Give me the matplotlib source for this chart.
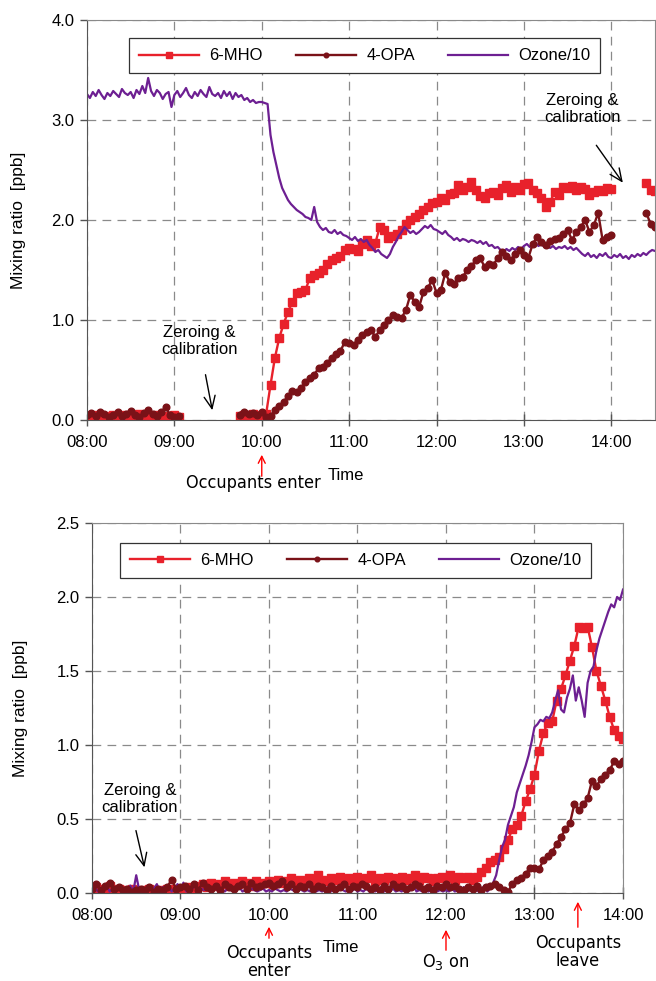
import numpy as np
import matplotlib
matplotlib.use('Agg')
import matplotlib.pyplot as plt
from matplotlib import font_manager

plt.rcParams['font.family'] = ['Liberation Sans', 'DejaVu Sans']

nan = np.nan

# ---------- top panel (3-min samples for 6-MHO / 4-OPA, 2-min for ozone) ----------
top_mho = [0.04, 0.03, 0.05, 0.02, 0.04, 0.03, 0.05, 0.04, 0.02, 0.05,
           0.03, 0.04, 0.06, 0.03, 0.04, 0.02, 0.05, 0.03, 0.04, 0.03,
           0.05, 0.03,
           nan, nan, nan, nan, nan, nan, nan, nan, nan, nan, nan, nan, nan,
           0.04, 0.05, 0.03, 0.06, 0.04, 0.05, 0.06,
           0.35, 0.62, 0.82, 0.96, 1.08, 1.18, 1.27, 1.28, 1.30, 1.42,
           1.45, 1.47, 1.50, 1.56, 1.60, 1.62, 1.64, 1.70, 1.72, 1.71,
           1.69, 1.76, 1.80, 1.74, 1.77, 1.93, 1.90, 1.82, 1.84, 1.86,
           1.90, 1.96, 2.00, 2.03, 2.06, 2.10, 2.13, 2.17, 2.18, 2.22,
           2.20, 2.26, 2.27, 2.35, 2.30, 2.33, 2.38, 2.30, 2.24, 2.22,
           2.27, 2.28, 2.25, 2.32, 2.35, 2.28, 2.33, 2.30, 2.36, 2.37,
           2.30, 2.27, 2.22, 2.13, 2.18, 2.28, 2.25, 2.33, 2.32, 2.34,
           2.30, 2.33, 2.31, 2.25, 2.28, 2.30, 2.29, 2.32, 2.31,
           nan, nan, nan, nan, nan, nan, nan,
           2.37, 2.30, 2.29]

top_opa = [0.05, 0.07, 0.04, 0.08, 0.06, 0.03, 0.05, 0.08, 0.04, 0.06,
           0.09, 0.05, 0.03, 0.07, 0.10, 0.06, 0.04, 0.08, 0.13, 0.05,
           0.03, 0.04,
           nan, nan, nan, nan, nan, nan, nan, nan, nan, nan, nan, nan, nan,
           0.05, 0.08, 0.06, 0.07, 0.05, 0.08, 0.03,
           0.04, 0.10, 0.14, 0.18, 0.24, 0.29, 0.28, 0.32, 0.38, 0.42,
           0.45, 0.52, 0.53, 0.57, 0.62, 0.66, 0.69, 0.78, 0.77, 0.75,
           0.80, 0.85, 0.88, 0.90, 0.83, 0.90, 0.95, 1.00, 1.05, 1.03,
           1.02, 1.10, 1.25, 1.18, 1.13, 1.28, 1.32, 1.40, 1.27, 1.30,
           1.47, 1.38, 1.36, 1.42, 1.43, 1.50, 1.54, 1.60, 1.62, 1.53,
           1.56, 1.55, 1.62, 1.68, 1.64, 1.60, 1.66, 1.70, 1.65, 1.62,
           1.76, 1.83, 1.78, 1.75, 1.79, 1.81, 1.82, 1.86, 1.90, 1.80,
           1.88, 1.93, 2.00, 1.88, 1.95, 2.07, 1.80, 1.83, 1.85,
           nan, nan, nan, nan, nan, nan, nan,
           2.07, 1.96, 1.93]

top_ozone = [3.26, 3.22, 3.28, 3.24, 3.30, 3.25, 3.21, 3.27, 3.24, 3.29, 3.26, 3.23, 3.31, 3.27, 3.25,
             3.28, 3.22, 3.30, 3.26, 3.34, 3.27, 3.42, 3.29, 3.24, 3.30, 3.27, 3.21, 3.26, 3.28, 3.13,
             3.25, 3.29, 3.23, 3.27, 3.32, 3.25, 3.22, 3.28, 3.24, 3.30, 3.26, 3.23, 3.33, 3.26, 3.24,
             3.27, 3.22, 3.29, 3.24, 3.28, 3.21, 3.27, 3.23, 3.25, 3.20, 3.22, 3.18, 3.20, 3.17, 3.18,
             3.18, 3.17, 3.16, 2.85, 2.68, 2.55, 2.42, 2.32, 2.26, 2.20, 2.16, 2.13, 2.10, 2.08, 2.06,
             2.03, 2.02, 2.00, 2.13, 1.98, 1.93, 1.90, 1.92, 1.88, 1.87, 1.90, 1.86, 1.88, 1.85, 1.84,
             1.82, 1.80, 1.83, 1.79, 1.81, 1.78, 1.80, 1.75, 1.72, 1.68, 1.70, 1.66, 1.64, 1.62, 1.66,
             1.73, 1.78, 1.84, 1.88, 1.93, 1.90, 1.87, 1.89, 1.86, 1.88, 1.91, 1.94, 1.92, 1.95, 1.91,
             1.90, 1.88, 1.86, 1.89, 1.85, 1.83, 1.80, 1.82, 1.79, 1.81, 1.80, 1.78, 1.80, 1.79, 1.77,
             1.79, 1.76, 1.78, 1.74, 1.75, 1.72, 1.73, 1.70, 1.68, 1.71, 1.69, 1.72, 1.70, 1.73, 1.71,
             1.74, 1.76, 1.73, 1.75, 1.77, 1.74, 1.76, 1.73, 1.75, 1.72, 1.74, 1.71, 1.73, 1.72, 1.74,
             1.71, 1.73, 1.70, 1.72, 1.69, 1.66, 1.64, 1.67, 1.63, 1.65, 1.62, 1.66, 1.64, 1.67, 1.63,
             1.62, 1.65, 1.63, 1.66, 1.62, 1.64, 1.61, 1.65, 1.63, 1.66, 1.64, 1.67, 1.65, 1.68, 1.70,
             1.69]

# ---------- bottom panel ----------
bot_mho = [0.03, 0.04, 0.02, 0.03, 0.05, 0.02, 0.03, 0.01, 0.02, 0.03,
           0.02, 0.01, 0.02, 0.03, 0.02, 0.01, 0.02, 0.03, 0.02, 0.03,
           0.02, 0.03, 0.04, 0.03, 0.05, 0.06, 0.04, 0.07, 0.05, 0.06,
           0.08, 0.05, 0.07, 0.06, 0.08, 0.07, 0.05, 0.08, 0.06, 0.07,
           0.08, 0.06, 0.09, 0.07, 0.08, 0.10, 0.07, 0.09, 0.08, 0.10,
           0.07, 0.12, 0.09, 0.08, 0.10, 0.09, 0.11, 0.08, 0.10, 0.09,
           0.11, 0.09, 0.10, 0.12, 0.08, 0.10, 0.09, 0.11, 0.10, 0.08,
           0.11, 0.09, 0.10, 0.12, 0.09, 0.11, 0.10, 0.08, 0.10, 0.11,
           0.10, 0.12, 0.09, 0.11, 0.10, 0.11, 0.09, 0.11, 0.14, 0.17,
           0.21, 0.22, 0.24, 0.30, 0.36, 0.43, 0.46, 0.52, 0.62, 0.70,
           0.80, 0.96, 1.08, 1.15, 1.16, 1.30, 1.38, 1.47, 1.57, 1.67,
           1.80, 1.79, 1.80, 1.66, 1.50, 1.40, 1.30, 1.19, 1.10, 1.06,
           1.04]

bot_opa = [0.03, 0.06, 0.02, 0.05, 0.07, 0.03, 0.04, 0.02, 0.03, 0.01,
           0.02, 0.03, 0.02, 0.04, 0.01, 0.03, 0.02, 0.04, 0.09, 0.03,
           0.04, 0.05, 0.03, 0.06, 0.02, 0.07, 0.04, 0.03, 0.05, 0.02,
           0.06, 0.04, 0.03, 0.05, 0.06, 0.03, 0.07, 0.04, 0.05, 0.06,
           0.07, 0.05, 0.06, 0.08, 0.04, 0.06, 0.03, 0.05, 0.04, 0.06,
           0.03, 0.05, 0.04, 0.02, 0.05, 0.03, 0.04, 0.06, 0.03, 0.05,
           0.04, 0.06, 0.05, 0.03, 0.04, 0.02, 0.05, 0.03, 0.06, 0.04,
           0.05, 0.03, 0.04, 0.06, 0.05, 0.03, 0.04, 0.02, 0.05, 0.04,
           0.06, 0.04, 0.05, 0.03, 0.02, 0.04, 0.03, 0.05, 0.02, 0.04,
           0.05, 0.06, 0.04, 0.02, 0.01, 0.06, 0.09, 0.10, 0.13, 0.17,
           0.17, 0.16, 0.22, 0.25, 0.28, 0.33, 0.38, 0.43, 0.47, 0.60,
           0.56, 0.60, 0.64, 0.76, 0.72, 0.77, 0.80, 0.83, 0.89, 0.87,
           0.89]

bot_ozone = [0.02, 0.04, 0.01, 0.03, 0.02, 0.05, 0.01, 0.03, 0.02, 0.04, 0.01, 0.03, 0.02, 0.05, 0.01,
             0.12, 0.02, 0.04, 0.01, 0.05, 0.02, 0.03, 0.06, 0.01, 0.04, 0.02, 0.05, 0.01, 0.03, 0.06,
             0.02, 0.07, 0.01, 0.04, 0.03, 0.05, 0.01, 0.03, 0.02, 0.04, 0.01, 0.02, 0.03, 0.01, 0.02,
             0.01, 0.03, 0.02, 0.01, 0.02, 0.04, 0.01, 0.02, 0.01, 0.03, 0.02, 0.01, 0.02, 0.03, 0.01,
             0.02, 0.01, 0.03, 0.02, 0.01, 0.02, 0.01, 0.03, 0.02, 0.01, 0.04, 0.02, 0.01, 0.02, 0.01,
             0.03, 0.01, 0.02, 0.01, 0.02, 0.04, 0.01, 0.02, 0.01, 0.03, 0.02, 0.01, 0.02, 0.01, 0.03,
             0.01, 0.02, 0.01, 0.03, 0.01, 0.02, 0.01, 0.02, 0.04, 0.01, 0.02, 0.01, 0.03, 0.01, 0.02,
             0.01, 0.03, 0.01, 0.02, 0.05, 0.01, 0.02, 0.01, 0.03, 0.01, 0.02, 0.04, 0.01, 0.02, 0.01,
             0.02, 0.01, 0.03, 0.01, 0.02, 0.01, 0.04, 0.01, 0.02, 0.01, 0.03, 0.01, 0.02, 0.05, 0.01,
             0.03, 0.07, 0.12, 0.22, 0.31, 0.36, 0.46, 0.52, 0.58, 0.68, 0.74, 0.80, 0.86, 0.93, 1.02,
             1.12, 1.14, 1.17, 1.16, 1.19, 1.18, 1.22, 1.30, 1.37, 1.24, 1.22, 1.32, 1.38, 1.47, 1.30,
             1.39, 1.30, 1.19, 1.42, 1.50, 1.53, 1.64, 1.72, 1.78, 1.84, 1.90, 1.95, 1.93, 2.00, 1.98,
             2.05]

hour_ticks = [8, 9, 10, 11, 12, 13, 14]
hour_labels = ['08:00', '09:00', '10:00', '11:00', '12:00', '13:00', '14:00']

c_mho = '#e8212b'
c_opa = '#7a1218'
c_oz = '#6d1f92'

# narrow font for the event labels, if one is installed
narrow_file = None
for f in font_manager.fontManager.ttflist:
    if ('Narrow' in f.fname or 'Condensed' in f.fname) and 'Bold' not in f.fname \
            and 'Oblique' not in f.fname and 'Italic' not in f.fname:
        narrow_file = f
        break
if narrow_file is not None:
    ev_font = dict(family=narrow_file.name, stretch=narrow_file.stretch, fontsize=13)
    plt.rcParams['mathtext.fontset'] = 'custom'
    plt.rcParams['mathtext.rm'] = narrow_file.name
else:
    ev_font = dict(family='Liberation Sans', fontsize=12)
    plt.rcParams['mathtext.fontset'] = 'custom'
    plt.rcParams['mathtext.rm'] = 'Liberation Sans'


def times(vals, step):
    return 8 + step * np.arange(len(vals))


def style_axes(ax, xmax, ymax, ystep):
    ax.set_xlim(8, xmax)
    ax.set_ylim(0, ymax)
    ax.set_xticks(hour_ticks)
    ax.set_xticklabels(hour_labels)
    ax.set_yticks(np.arange(0, ymax + 0.01, ystep))
    ax.yaxis.set_major_formatter(matplotlib.ticker.FormatStrFormatter('%.1f'))
    ax.tick_params(axis='x', direction='inout', length=9, width=1, color='#555555',
                   labelsize=12, pad=6)
    ax.tick_params(axis='y', direction='out', length=5, width=1, color='#555555',
                   labelsize=12, pad=4)
    ax.grid(True, color='#8a8a8a', linestyle=(0, (7, 5)), linewidth=0.9)
    for s in ['left', 'bottom']:
        ax.spines[s].set_color('#555555')
    for s in ['top', 'right']:
        ax.spines[s].set_color('#8a8a8a')
    ax.set_ylabel('Mixing ratio  [ppb]', fontsize=12.5)


def draw(ax, mho, opa, oz):
    ax.plot(times(mho, 0.05), mho, color=c_mho, lw=1.7, marker='s', ms=5.3,
            label='6-MHO')
    ax.plot(times(oz, 1 / 30), oz, color=c_oz, lw=1.6, label='Ozone/10')
    ax.plot(times(opa, 0.05), opa, color=c_opa, lw=1.7, marker='o', ms=4.8,
            label='4-OPA')


fig = plt.figure(figsize=(6.56, 9.81), dpi=100)
ax1 = fig.add_axes([0.1326, 0.5719, 0.8659, 0.4077])
ax2 = fig.add_axes([0.1402, 0.0897, 0.8095, 0.3772])

for ax, mho, opa, oz in [(ax1, top_mho, top_opa, top_ozone), (ax2, bot_mho, bot_opa, bot_ozone)]:
    draw(ax, mho, opa, oz)

style_axes(ax1, 14.5, 4.0, 1.0)
style_axes(ax2, 14.0, 2.5, 0.5)

for ax, anchor in [(ax1, (0.489, 0.975)), (ax2, (0.497, 0.968))]:
    h, l = ax.get_legend_handles_labels()
    order = [0, 2, 1]
    leg = ax.legend([h[i] for i in order], [l[i] for i in order], loc='upper center',
                    bbox_to_anchor=anchor, ncol=3, fontsize=12, numpoints=1,
                    handlelength=3.6, columnspacing=2.0, handletextpad=0.6,
                    fancybox=False, framealpha=1, borderpad=0.6, markerscale=0.7)
    leg.get_frame().set_edgecolor('#333333')
    leg.get_frame().set_linewidth(0.9)

ax1.yaxis.set_label_coords(-0.108, 0.5)
ax2.yaxis.set_label_coords(-0.12, 0.5)

ax1.set_xlabel('Time', fontsize=12, va='center')
ax1.xaxis.set_label_coords(0.455, -0.14)
ax2.set_xlabel('Time', fontsize=12, va='center')
ax2.xaxis.set_label_coords(0.469, -0.146)

blk = dict(arrowstyle='->,head_length=0.9,head_width=0.4', color='black', lw=1)
red = dict(arrowstyle='->,head_length=0.5,head_width=0.25', color='red', lw=1)

# top panel annotations
ax1.text(9.29, 0.79, 'Zeroing &\ncalibration', fontsize=12, ha='center', va='center',
         linespacing=1.15)
ax1.annotate('', xy=(9.44, 0.07), xytext=(9.35, 0.48), arrowprops=blk)
ax1.text(13.67, 3.11, 'Zeroing &\ncalibration', fontsize=12, ha='center', va='center',
         linespacing=1.15)
ax1.annotate('', xy=(14.15, 2.35), xytext=(13.81, 2.77), arrowprops=blk)

fy = lambda py: 1 - py / 981
ax1.annotate('', xy=(10.0, fy(452)), xytext=(10.0, fy(479)),
             xycoords=('data', 'figure fraction'), textcoords=('data', 'figure fraction'),
             arrowprops=red, annotation_clip=False)
ax1.annotate('Occupants enter', xy=(9.90, fy(483)), xycoords=('data', 'figure fraction'),
             ha='center', va='center', annotation_clip=False, **ev_font)

# bottom panel annotations
ax2.text(8.54, 0.635, 'Zeroing &\ncalibration', fontsize=12, ha='center', va='center',
         linespacing=1.15)
ax2.annotate('', xy=(8.60, 0.155), xytext=(8.49, 0.44), arrowprops=blk)

for t, head, tail, label, ytxt in [(10.0, 924, 941, 'Occupants\nenter', 962),
                                   (12.0, 927, 953, 'O$_\\mathrm{3}$ on', 962),
                                   (13.49, 899, 930, 'Occupants\nleave', 952)]:
    ax2.annotate('', xy=(t, fy(head)), xytext=(t, fy(tail)),
                 xycoords=('data', 'figure fraction'), textcoords=('data', 'figure fraction'),
                 arrowprops=red, annotation_clip=False)
    ax2.annotate(label, xy=(t, fy(ytxt)), xycoords=('data', 'figure fraction'),
                 ha='center', va='center', linespacing=1.0,
                 annotation_clip=False, **ev_font)

plt.savefig('out.png', dpi=100)
